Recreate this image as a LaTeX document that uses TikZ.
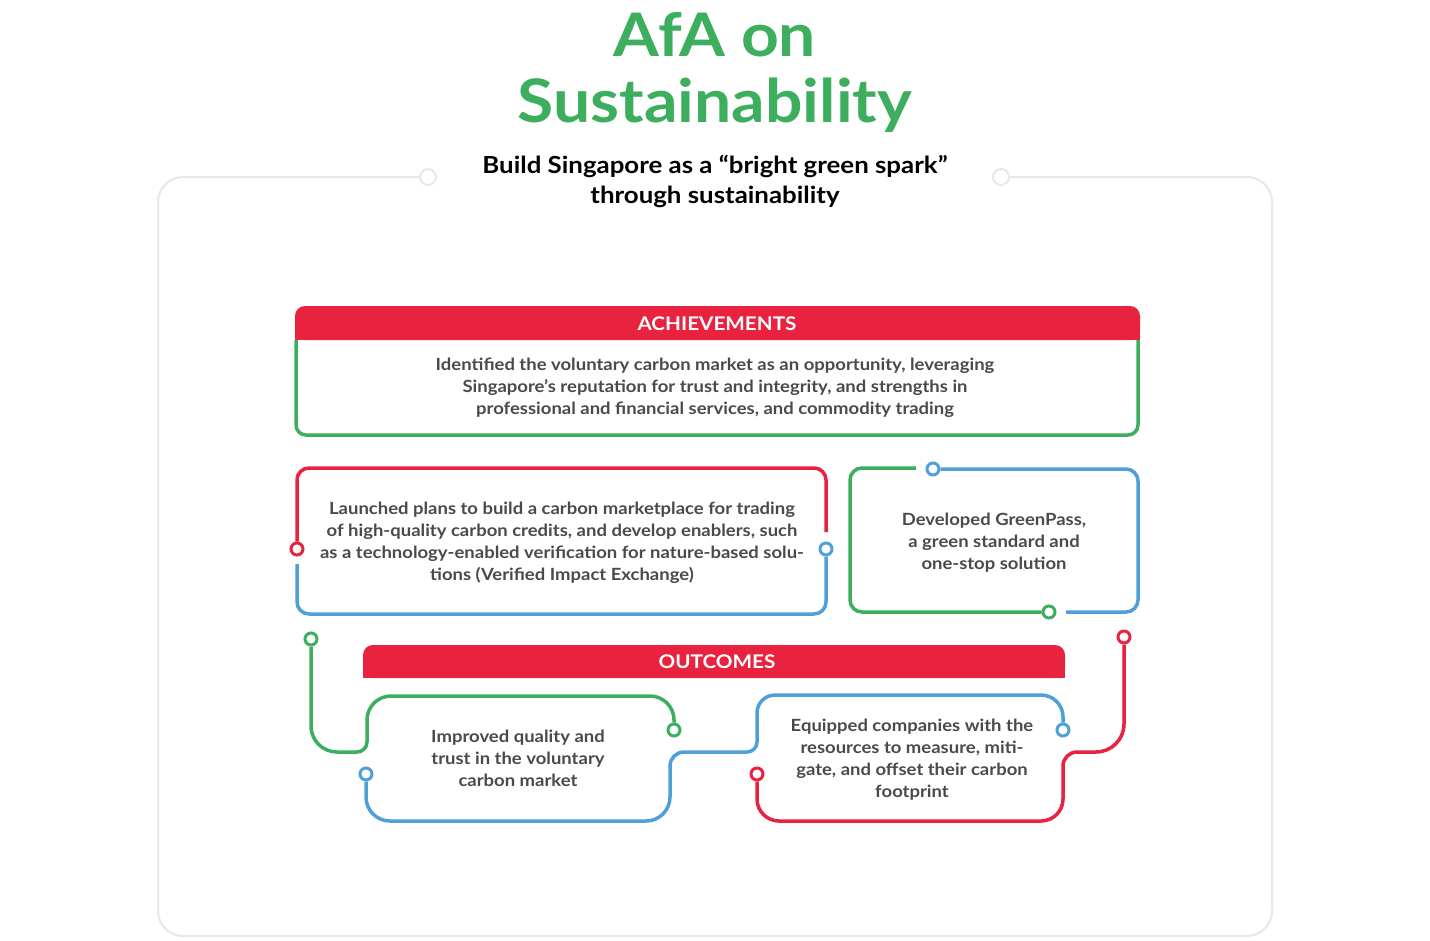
\documentclass[tikz,border=0pt]{standalone}
\usepackage{fontspec}
\setmainfont{Lato}[FakeStretch=1.1]
\definecolor{agreen}{RGB}{61,174,94}
\definecolor{ared}{RGB}{232,34,63}
\definecolor{ablue}{RGB}{79,160,216}
\definecolor{agray}{RGB}{74,74,74}
\definecolor{aframe}{RGB}{236,230,230}
\begin{document}
\begin{tikzpicture}[x=1pt,y=-1pt,
  framel/.style={draw=aframe, line width=2pt},
  fcirc/.style={circle, draw=aframe, line width=2pt, fill=white, minimum size=16pt, inner sep=0pt},
  greenl/.style={draw=agreen, line width=3.5pt},
  redl/.style={draw=ared, line width=3.5pt},
  bluel/.style={draw=ablue, line width=3.5pt},
  dotg/.style={circle, draw=agreen, line width=3pt, fill=white, minimum size=12pt, inner sep=0pt},
  dotr/.style={circle, draw=ared, line width=3pt, fill=white, minimum size=12pt, inner sep=0pt},
  dotb/.style={circle, draw=ablue, line width=3pt, fill=white, minimum size=12pt, inner sep=0pt},
  bodytext/.style={text=agray, align=center, font=\bfseries\fontsize{16.8}{22}\selectfont, inner sep=0pt},
  headtext/.style={text=white, font=\bfseries\fontsize{18.8}{22}\selectfont, inner sep=0pt}
]
\useasboundingbox (0,0) rectangle (1430,940);
\fill[white] (0,0) rectangle (1430,940);

% outer frame
\node[fcirc] (fc1) at (428,177) {};
\node[fcirc] (fc2) at (1001,177) {};
\draw[framel, rounded corners=25] (fc1.west) -- (158,177) -- (158,936) -- (1272,936) -- (1272,177) -- (fc2.east);

% title
\node[text=agreen, align=center, font=\bfseries\fontsize{60}{66}\selectfont, inner sep=0pt] (title) at (715,72) {AfA on\\Sustainability};
\node[text=black, align=center, font=\bfseries\fontsize{23.5}{30}\selectfont, inner sep=0pt] (sub) at (715,181) {Build Singapore as a “bright green spark”\\through sustainability};

% achievements
\fill[ared, rounded corners=10] (295,306) rectangle (1140,340);
\fill[ared] (295,325) rectangle (1140,340);
\node[headtext] (ach) at (717,324) {ACHIEVEMENTS};
\draw[greenl, rounded corners=10] (296,340) -- (296,435) -- (1138,435) -- (1138,340);
\node[bodytext] (t1) at (715,388) {Identified the voluntary carbon market as an opportunity, leveraging\\Singapore’s reputation for trust and integrity, and strengths in\\professional and financial services, and commodity trading};

% left achievement box
\node[dotr] (r1) at (297,549) {};
\node[dotb] (b1) at (826,549) {};
\coordinate (r1e) at (826,532);
\coordinate (b1s) at (297,564);
\draw[redl, rounded corners=12] (r1.north) |- (826,468) -- (r1e);
\draw[bluel, rounded corners=12] (b1s) |- (826,614) -- (b1.south);
\node[bodytext] (t2) at (562,543) {Launched plans to build a carbon marketplace for trading\\of high-quality carbon credits, and develop enablers, such\\as a technology-enabled verification for nature-based solu-\\tions (Verified Impact Exchange)};

% right achievement box
\node[dotb] (b2) at (933,469) {};
\node[dotg] (g1) at (1049,612) {};
\coordinate (g1s) at (916,468);
\coordinate (b2e) at (1066,612);
\draw[greenl, rounded corners=12] (g1s) -| (850,612) -- (g1.west);
\draw[bluel, rounded corners=12] (b2.east) -| (1138,612) -- (b2e);
\node[bodytext] (t3) at (994,543) {Developed GreenPass,\\a green standard and\\one-stop solution};

% outcomes header
\fill[ared, rounded corners=10] (363,645) rectangle (1065,678);
\fill[ared] (363,662) rectangle (1065,678);
\node[headtext] (out) at (717,662) {OUTCOMES};

% outcome connectors
\node[dotg] (g2) at (311,639) {};
\node[dotg] (g3) at (674,730) {};
\node[dotb] (b3) at (366,774) {};
\node[dotb] (b4) at (1063,730) {};
\node[dotr] (r2) at (1124,637) {};
\node[dotr] (r3) at (757,774) {};

\draw[greenl] (g2.south) [rounded corners=26] -- (311,752) [rounded corners=10] -- (367,752) [rounded corners=24] -- (367,696) -- (674,696) -- (g3.north);
\draw[bluel] (b3.south) [rounded corners=24] -- (366,821) -- (670,821) [rounded corners=14] -- (670,752) [rounded corners=10] -- (757,752) [rounded corners=18] -- (757,695) [rounded corners=22] -- (1063,695) -- (b4.north);
\draw[redl] (r2.south) [rounded corners=28] -- (1124,752) [rounded corners=14] -- (1063,752) [rounded corners=22] -- (1063,821) -- (757,821) -- (r3.south);

\node[bodytext] (t4) at (518,758) {Improved quality and\\trust in the voluntary\\carbon market};
\node[bodytext] (t5) at (912,760) {Equipped companies with the\\resources to measure, miti-\\gate, and offset their carbon\\footprint};
\end{tikzpicture}
\end{document}
